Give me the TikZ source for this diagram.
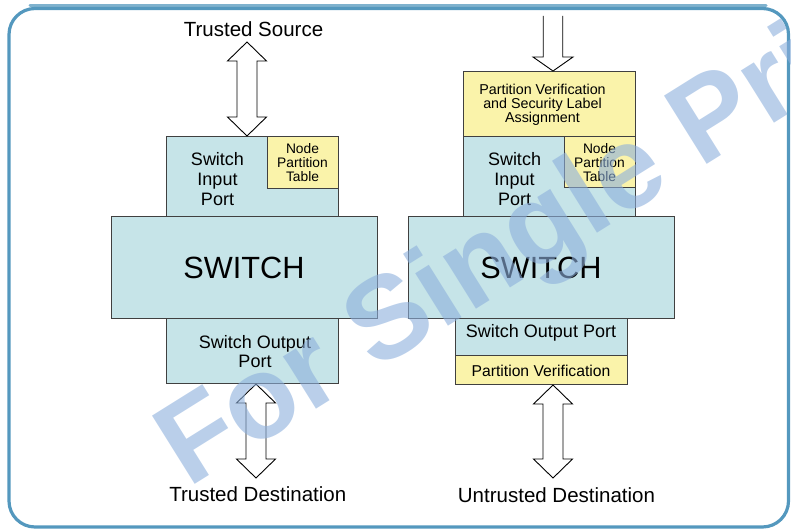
\documentclass[tikz,border=0pt]{standalone}
\usepackage{fontspec}
\setmainfont{Liberation Sans}
\usetikzlibrary{calc}

\definecolor{framecol}{RGB}{84,152,190}
\definecolor{portfill}{RGB}{198,228,232}
\definecolor{tablefill}{RGB}{250,243,170}
\definecolor{edgecol}{RGB}{64,64,64}
\definecolor{markcol}{RGB}{140,175,220}

\tikzset{
  box/.style={draw=edgecol, line width=1, inner sep=0, anchor=north west},
  portbox/.style={box, fill=portfill},
  tablebox/.style={box, fill=tablefill},
  blockarrow/.style={draw=black, line width=0.9, fill=white, line join=miter},
  txt/.style={inner sep=0, align=center, text=black},
  fbig/.style={font=\fontsize{20.5}{24}\selectfont},
  fport/.style={font=\fontsize{18}{20}\selectfont},
  fsmall/.style={font=\fontsize{13.8}{14.3}\selectfont},
  fswitch/.style={font=\fontsize{30.7}{34}\selectfont},
  wm/.style={inner sep=0, text=markcol, text opacity=0.6,
    font=\fontsize{117}{117}\selectfont\bfseries},
}

% vertical double block arrow between an upper tip #1 and a lower tip #2
\newcommand\dblarrow[2]{%
  \filldraw[blockarrow] let \p1=(#1), \p2=(#2) in
    (\x1,\y1) -- ({\x1+19.5pt},{\y1-19pt}) -- ({\x1+10pt},{\y1-19pt})
    -- ({\x2+10pt},{\y2+19pt}) -- ({\x2+19.5pt},{\y2+19pt}) -- (\x2,\y2)
    -- ({\x2-19.5pt},{\y2+19pt}) -- ({\x2-10pt},{\y2+19pt})
    -- ({\x1-10pt},{\y1-19pt}) -- ({\x1-19.5pt},{\y1-19pt}) -- cycle;}

% downward block arrow with an open tail #1 and a tip #2
\newcommand\downarrowblock[2]{%
  \filldraw[blockarrow] let \p1=(#1), \p2=(#2) in
    ({\x1-9.75pt},\y1) -- ({\x1-9.75pt},{\y2+14pt}) -- ({\x2-20pt},{\y2+14pt})
    -- (\x2,\y2) -- ({\x2+20pt},{\y2+14pt}) -- ({\x1+9.75pt},{\y2+14pt})
    -- ({\x1+9.75pt},\y1);}

\begin{document}
\begin{tikzpicture}[x=1pt,y=-1pt]
\useasboundingbox (0,0) rectangle (791,529);

% outer frame, with a heavier top edge
\draw[framecol!75, line width=3, line cap=round] (30,6) -- (766,6);
\draw[framecol, line width=3.2, rounded corners=26] (9,8.5) rectangle (788.5,527);

% ---------- trusted path ----------
\node[portbox, minimum width=266, minimum height=102] (swL) at (111,216) {};
\node[portbox, minimum width=172, minimum height=80]  (inL) at (166,136) {};
\node[tablebox, minimum width=71, minimum height=52]  (nptL) at (267,136) {};
\node[portbox, minimum width=172, minimum height=65]  (outL) at (166,318) {};

\node[txt, fbig] (srcL) at (253.5,29) {Trusted Source};
\node[txt, fport] (inLt) at (217.5,179) {Switch\\Input\\Port};
\node[txt, fsmall] (nptLt) at (302.5,162.5) {Node\\Partition\\Table};
\node[txt, fswitch] (swLt) at (244,267.5) {SWITCH};
\node[txt, font=\fontsize{18}{19.5}\selectfont] (outLt) at (255,351.5) {Switch Output\\Port};
\node[txt, fbig] (dstL) at (257.8,494.5) {Trusted Destination};

\coordinate (aLtop) at (247,42);
\coordinate (aLbot) at (256,478);
\dblarrow{aLtop}{$(inL.north west)+(81,0)$}
\dblarrow{$(outL.south west)+(90,0)$}{aLbot}

% ---------- untrusted path ----------
\node[portbox, minimum width=266, minimum height=102] (swR) at (408,216) {};
\node[tablebox, minimum width=172, minimum height=65] (pvR) at (463,71) {};
\node[portbox, minimum width=172, minimum height=80]  (inR) at (463,136) {};
\node[tablebox, minimum width=71, minimum height=51]  (nptR) at (564,136) {};
\node[portbox, minimum width=172, minimum height=37]  (outR) at (455,318) {};
\node[tablebox, minimum width=172, minimum height=29] (pvoR) at (455,355) {};

\node[txt, font=\fontsize{14.3}{14}\selectfont] (pvRt) at (542.5,105)
  {Partition Verification\\and Security Label\\Assignment};
\node[txt, fport] (inRt) at (514.5,179) {Switch\\Input\\Port};
\node[txt, fsmall] (nptRt) at (599.5,162.5) {Node\\Partition\\Table};
\node[txt, fswitch] (swRt) at (541,268) {SWITCH};
\node[txt, fport] (outRt) at (541,333) {Switch Output Port};
\node[txt, font=\fontsize{15.7}{18}\selectfont] (pvoRt) at (541,370.5) {Partition Verification};
\node[txt, fbig] (dstR) at (556.5,495) {Untrusted Destination};

\coordinate (aRtop) at (553,16);
\coordinate (aRbot) at (553,478);
\downarrowblock{aRtop}{$(pvR.north west)+(90,0)$}
\dblarrow{$(pvoR.south west)+(98,0)$}{aRbot}

% watermark
\node[wm, rotate=32, anchor=base west] (mark) at (188,489) {For Single Pri};
\end{tikzpicture}
\end{document}
